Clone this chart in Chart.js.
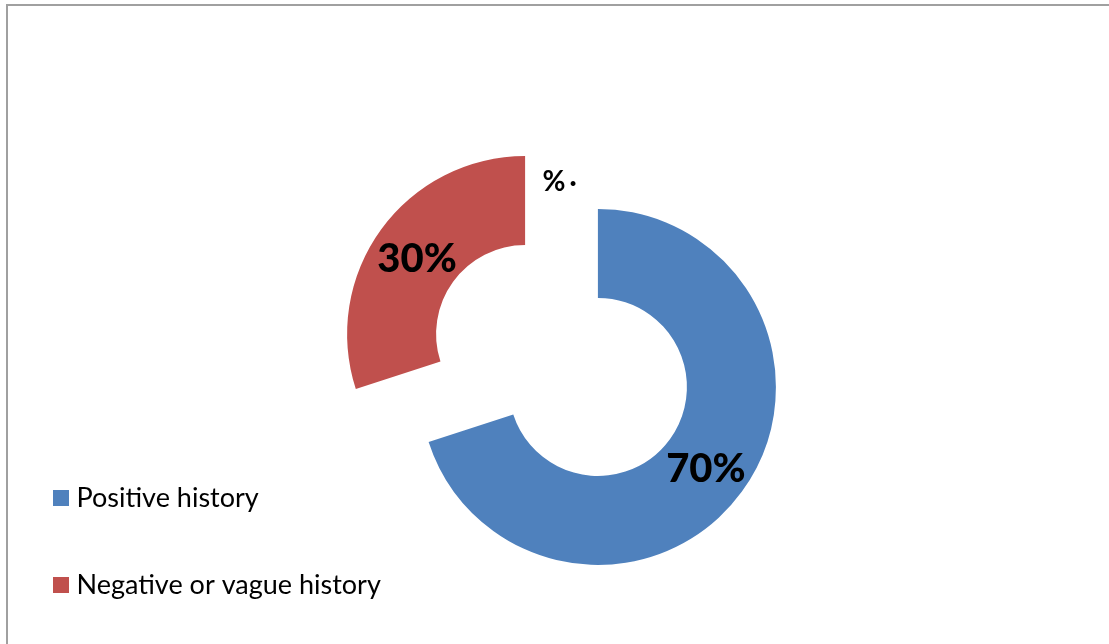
<!DOCTYPE html>
<html>
<head>
<meta charset="utf-8">
<title>History</title>
<script src="https://cdn.jsdelivr.net/npm/chart.js@4/dist/chart.umd.min.js"></script>
<style>
  html, body { margin: 0; padding: 0; background: #ffffff; }
  #wrap { position: relative; width: 1109px; height: 644px; overflow: hidden; }
  #frame {
    position: absolute; left: 6px; top: 4px; width: 1200px; height: 700px;
    border-top: 2px solid #a0a0a0; border-left: 2px solid #a0a0a0;
    box-sizing: border-box;
  }
  canvas { position: absolute; left: 0; top: 0; }
</style>
</head>
<body>
<div id="wrap">
  <div id="frame"></div>
  <canvas id="chart" width="1109" height="644"></canvas>
</div>
<script>
// Share of patients by history type (percent)
const categories = ['Positive history', 'Negative or vague history'];
const shares = [70, 30];
const sliceColors = ['#4F81BD', '#C0504D'];
const headerText = '%';
const headerMark = '\u00B7';

const LEGEND_FONT = 27;
const LEGEND_GAP = 87 - LEGEND_FONT;   // vertical pitch of 87px between entries
const SWATCH_CORE = 4;                 // filled core of the swatch
const SWATCH_RIM = 12;                 // same-colour outline, 16px square overall
const LEGEND_WIDTH = 300;
const PAD_LEFT = 59 - LEGEND_GAP;

// Pull every slice outward along its bisector
const explodeSlices = {
  id: 'explodeSlices',
  afterDatasetsUpdate(chart, args, opts) {
    chart.getDatasetMeta(0).data.forEach(arc => {
      const mid = (arc.startAngle + arc.endAngle) / 2;
      arc.x += Math.cos(mid) * opts.distance;
      arc.y += Math.sin(mid) * opts.distance;
    });
  }
};

// Let long legend entries run past the legend box
const legendRoom = {
  id: 'legendRoom',
  afterLayout(chart) {
    if (chart.legend) chart.legend.right = chart.width;
  }
};

// Percentage written in the middle of each slice
const sliceLabels = {
  id: 'sliceLabels',
  afterDatasetsDraw(chart) {
    const ctx = chart.ctx;
    const values = chart.data.datasets[0].data;
    ctx.save();
    ctx.font = '900 40px Lato';
    ctx.fillStyle = '#000000';
    ctx.textAlign = 'center';
    ctx.textBaseline = 'middle';
    chart.getDatasetMeta(0).data.forEach((arc, i) => {
      const p = arc.tooltipPosition();
      ctx.fillText(values[i] + '%', p.x, p.y + 4);
    });
    ctx.restore();
  }
};

// Small header mark above the ring
const headerLabel = {
  id: 'headerLabel',
  afterDraw(chart) {
    const ctx = chart.ctx;
    ctx.save();
    ctx.fillStyle = '#000000';
    ctx.textBaseline = 'middle';
    ctx.textAlign = 'center';
    ctx.font = 'bold 28px Lato';
    ctx.fillText(headerText, 554, 182);
    ctx.font = 'bold 26px Lato';
    ctx.fillText(headerMark, 573, 184);
    ctx.restore();
  }
};

new Chart(document.getElementById('chart'), {
  type: 'doughnut',
  data: {
    labels: categories,
    datasets: [{
      data: shares,
      backgroundColor: sliceColors,
      borderWidth: 0,
      hoverOffset: 0
    }]
  },
  options: {
    responsive: false,
    animation: false,
    radius: 178,
    cutout: '50%',
    clip: false,
    layout: {
      padding: {
        left: PAD_LEFT,
        right: PAD_LEFT + LEGEND_WIDTH + 1109 - 2 * 561.5,
        top: 77,
        bottom: LEGEND_FONT / 2 - 28
      }
    },
    plugins: {
      explodeSlices: { distance: 45 },
      tooltip: { enabled: false },
      legend: {
        position: 'left',
        align: 'end',
        maxWidth: LEGEND_WIDTH,
        labels: {
          boxWidth: SWATCH_CORE,
          boxHeight: SWATCH_CORE,
          padding: LEGEND_GAP,
          color: '#000000',
          font: { family: 'Lato', size: LEGEND_FONT },
          generateLabels(chart) {
            const base = Chart.overrides.doughnut.plugins.legend.labels.generateLabels(chart);
            return base.map(item => Object.assign(item, {
              strokeStyle: item.fillStyle,
              lineWidth: SWATCH_RIM,
              lineJoin: 'miter'
            }));
          }
        }
      }
    }
  },
  plugins: [explodeSlices, legendRoom, sliceLabels, headerLabel]
});
</script>
</body>
</html>
